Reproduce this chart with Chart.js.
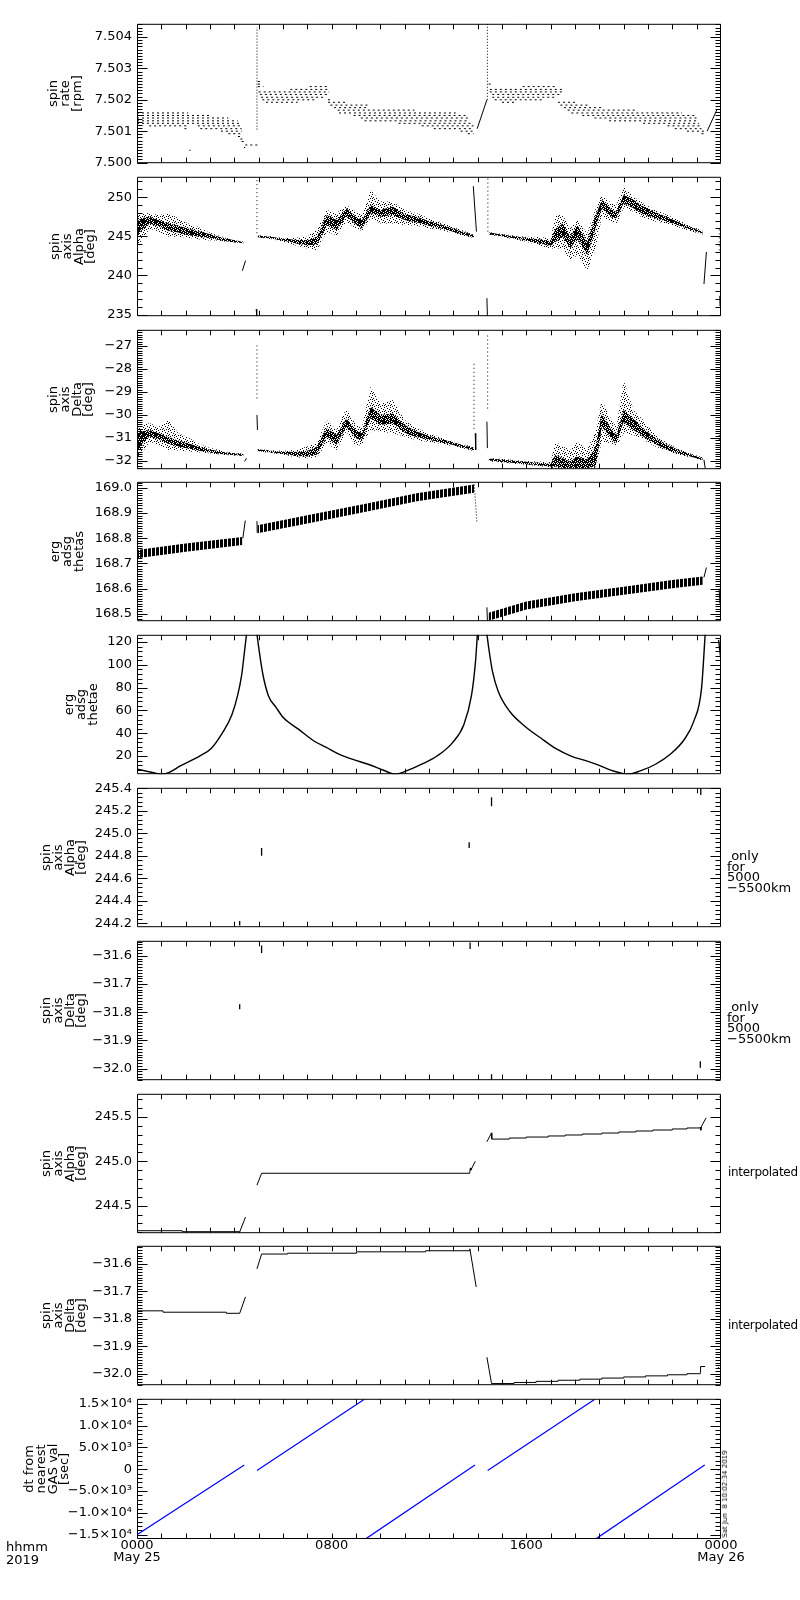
<!DOCTYPE html>
<html lang="en">
<head>
<meta charset="UTF-8" />
<title>ERG spin axis summary, 2019 May 25</title>
<script src="https://cdn.jsdelivr.net/npm/chart.js"></script>
<style>
  body { margin: 0; background: #fff; font-family: 'DejaVu Sans', sans-serif; color: #000; }
  #page { position: relative; width: 800px; height: 1600px; overflow: hidden; }
  #page canvas { position: absolute; left: 0; }
  .note { position: absolute; font-size: 13px; line-height: 10.5px; white-space: nowrap; z-index: 5; }
  .narrow { font-size: 12px; letter-spacing: -0.3px; }
  #stamp { position: absolute; font-size: 7px; white-space: pre; transform: translate(-50%, -50%) rotate(-90deg); z-index: 5; }
</style>
</head>
<body>
<div id="page">
  <div class="note" style="left:727px;top:851px">&nbsp;only<br>for<br>5000<br>&minus;5500km</div>
  <div class="note" style="left:727px;top:1002px">&nbsp;only<br>for<br>5000<br>&minus;5500km</div>
  <div class="note narrow" style="left:728px;top:1167px">interpolated</div>
  <div class="note narrow" style="left:728px;top:1320px">interpolated</div>
  <div class="note" style="left:6px;top:1541px;line-height:12.5px">hhmm<br>2019</div>
  <div id="stamp" style="left:725px;top:1494px">Sat Jun  8 10:02:34 2019</div>
</div>

<script>
// time axis: hours since 0000 UT, May 25 2019
const hourTicks = [0, 8, 16, 24];
const hourLabels = [['0000', 'May 25'], ['0800'], ['1600'], ['0000', 'May 26']];

// ---- panel 1: spin rate [rpm]
const rateTicks = [7.500, 7.501, 7.502, 7.503, 7.504];
const rateLabels = ['7.500', '7.501', '7.502', '7.503', '7.504'];
// [rpm, from h, to h]
const rateLevels = [
  [7.50158, 0.00, 2.10], [7.50150, 0.00, 2.96], [7.50142, 0.00, 3.75], [7.50133, 0.00, 4.14],
  [7.50125, 0.00, 4.30], [7.50117, 0.50, 2.05], [7.50117, 2.50, 4.30], [7.50108, 1.95, 2.15],
  [7.50108, 2.60, 4.30], [7.50100, 3.45, 4.30], [7.50092, 3.75, 4.32], [7.50083, 4.15, 4.35],
  [7.50075, 4.25, 4.40], [7.50067, 4.30, 4.40], [7.50056, 4.45, 4.95], [7.50048, 4.40, 4.45],
  [7.50039, 2.15, 2.20],
  [7.50258, 4.97, 5.12], [7.50250, 4.97, 5.05], [7.50242, 4.97, 5.20], [7.50242, 7.10, 7.85],
  [7.50233, 6.30, 7.90], [7.50225, 5.00, 7.90], [7.50217, 5.05, 7.90], [7.50208, 5.10, 7.75],
  [7.50200, 5.15, 7.30], [7.50192, 5.30, 6.60], [7.50200, 7.85, 8.00], [7.50192, 7.85, 8.55],
  [7.50183, 7.95, 9.50], [7.50175, 8.10, 9.50], [7.50167, 8.25, 11.40], [7.50158, 8.30, 13.10],
  [7.50150, 8.90, 13.50], [7.50142, 9.20, 13.60], [7.50133, 9.35, 13.67], [7.50125, 10.75, 13.75],
  [7.50117, 11.70, 13.83], [7.50108, 12.20, 13.83], [7.50100, 13.30, 13.83], [7.50092, 13.60, 13.83],
  [7.50250, 14.45, 14.60], [7.50242, 15.85, 17.20], [7.50233, 14.50, 17.50], [7.50225, 14.50, 17.50],
  [7.50217, 14.60, 17.40], [7.50208, 14.60, 17.20], [7.50200, 14.70, 16.75], [7.50192, 15.00, 15.50],
  [7.50192, 17.30, 18.00], [7.50183, 17.40, 18.60], [7.50175, 17.55, 19.10], [7.50167, 17.70, 20.50],
  [7.50158, 17.85, 22.40], [7.50150, 18.30, 22.90], [7.50142, 18.80, 23.05], [7.50133, 19.40, 23.05],
  [7.50125, 20.80, 23.10], [7.50117, 21.80, 23.15], [7.50108, 22.10, 23.20], [7.50100, 22.60, 23.35],
  [7.50092, 23.20, 23.40]
];
const rateRampT = [13.98, 14.38, null, 23.43, 23.83];
const rateRampV = [7.50108, 7.50200, null, 7.50100, 7.50168];
const rateSpikes = [[4.93, 7.50105, 7.50431], [14.40, 7.50200, 7.50447]];

// ---- panel 2: spin axis Alpha [deg]
const alphaTicks = [235, 240, 245, 250];
const alphaLabels = ['235', '240', '245', '250'];
const alphaT = [0, 0.15, 0.52, 0.9, 1.3, 1.7, 2.1, 2.5, 2.9, 3.3, 3.67, 4.05, 4.38, null,
  4.95, 5.5, 6.0, 6.5, 7.0, 7.4, 7.8, 8.2, 8.6, 9.0, 9.25, 9.6, 10.0, 10.5, 11.0, 11.5, 12.0, 12.5, 13.0, 13.5, 13.85, null,
  14.45, 15.0, 15.5, 16.0, 16.5, 17.0, 17.2, 17.5, 17.8, 18.1, 18.5, 18.85, 19.1, 19.5, 19.7, 20.0, 20.4, 20.8, 21.3, 21.8, 22.3, 22.8, 23.25];
const alphaCoreHi = [246.87, 247.3, 247.51, 247.08, 246.65, 246.35, 246.0, 245.67, 245.36, 245.02, 244.72, 244.46, 244.29, null,
  245.11, 244.94, 244.72, 244.55, 244.51, 244.94, 247.73, 247.08, 248.58, 247.51, 247.08, 249.01, 248.37, 248.8, 247.81, 247.51, 246.95, 246.52, 246.0, 245.49, 245.15, null,
  245.49, 245.24, 245.02, 244.81, 244.64, 244.38, 246.0, 246.65, 244.94, 246.44, 244.29, 247.73, 249.66, 248.37, 248.15, 250.3, 249.66, 248.8, 248.07, 247.42, 246.78, 246.09, 245.58];
const alphaCoreLo = [245.15, 245.58, 246.65, 246.22, 245.67, 245.49, 245.15, 244.98, 244.81, 244.59, 244.38, 244.21, 244.12, null,
  244.89, 244.72, 244.46, 244.12, 243.86, 243.95, 246.44, 245.79, 247.51, 246.52, 246.0, 247.94, 247.51, 247.73, 247.08, 246.78, 246.35, 246.0, 245.58, 245.15, 244.85, null,
  245.28, 245.02, 244.72, 244.46, 244.08, 243.78, 244.29, 244.94, 243.43, 244.72, 242.58, 246.0, 248.58, 247.38, 247.3, 249.23, 248.58, 247.81, 247.3, 246.87, 246.35, 245.79, 245.32];
const alphaOutHi = [247.73, 247.94, 247.94, 247.73, 247.94, 247.3, 246.65, 246.22, 245.58, 245.15, 244.8, 244.5, 244.3, null,
  245.15, 245.0, 244.8, 244.81, 244.94, 246.0, 248.37, 247.94, 249.01, 248.15, 247.73, 250.94, 249.44, 249.44, 248.37, 247.94, 247.3, 246.8, 246.2, 245.6, 245.2, null,
  245.55, 245.3, 245.1, 244.95, 244.94, 244.72, 247.73, 247.73, 246.0, 247.08, 245.36, 248.58, 250.3, 249.23, 249.0, 251.37, 250.1, 249.23, 248.37, 247.73, 247.0, 246.3, 245.7];
const alphaOutLo = [243.86, 244.29, 246.0, 245.58, 244.94, 244.94, 244.81, 244.64, 244.51, 244.46, 244.3, 244.18, 244.1, null,
  244.85, 244.65, 244.35, 243.86, 243.43, 243.22, 245.58, 245.15, 246.87, 246.0, 245.67, 247.3, 246.65, 246.65, 246.44, 246.35, 246.0, 245.8, 245.4, 245.0, 244.8, null,
  245.2, 244.95, 244.6, 244.3, 243.86, 243.43, 243.43, 243.43, 241.93, 242.58, 240.64, 243.43, 247.51, 246.87, 246.6, 248.58, 248.15, 247.3, 246.9, 246.6, 246.1, 245.6, 245.2];
const alphaLineT = [4.33, 4.46, null, 4.90, 4.92, null, 13.82, 13.95, null, 14.38, 14.40, null, 23.30, 23.40, null, 23.95, 23.96];
const alphaLineV = [240.6, 241.9, null, 235.7, 234.8, null, 251.4, 245.6, null, 237.1, 234.8, null, 238.9, 243.0, null, 237.4, 236.1];
const alphaDots = [[4.93, 245.4, 252.5], [14.42, 245.6, 252.5], [23.93, 243.2, 246.0]];

// ---- panel 3: spin axis Delta [deg]
const deltaTicks = [-32, -31, -30, -29, -28, -27];
const deltaLabels = ['\u221232', '\u221231', '\u221230', '\u221229', '\u221228', '\u221227'];
const deltaT = alphaT;
const deltaCoreHi = [-30.87, -30.72, -30.65, -30.80, -30.97, -31.11, -31.23, -31.37, -31.49, -31.56, -31.63, -31.68, -31.70, null,
  -31.49, -31.56, -31.59, -31.60, -31.56, -31.37, -30.58, -30.87, -30.15, -30.65, -30.80, -29.64, -30.00, -29.93, -30.43, -30.72, -30.91, -31.05, -31.20, -31.34, -31.44, null,
  -31.89, -31.95, -31.99, -32.04, -32.08, -32.12, -31.73, -31.88, -32.02, -31.80, -31.95, -31.37, -29.93, -30.65, -30.87, -29.78, -30.15, -30.58, -31.01, -31.30, -31.55, -31.73, -31.88];
const deltaCoreLo = [-31.66, -31.30, -30.94, -31.08, -31.26, -31.37, -31.46, -31.55, -31.62, -31.68, -31.72, -31.75, -31.78, null,
  -31.57, -31.63, -31.69, -31.78, -31.81, -31.73, -30.94, -31.30, -30.51, -31.01, -31.11, -30.15, -30.43, -30.36, -30.77, -30.97, -31.08, -31.20, -31.31, -31.44, -31.55, null,
  -31.98, -32.05, -32.09, -32.14, -32.19, -32.24, -32.24, -32.31, -32.31, -32.31, -32.31, -32.24, -30.51, -31.01, -31.23, -30.29, -30.65, -30.94, -31.26, -31.52, -31.69, -31.83, -31.95];
const deltaOutHi = [-30.51, -30.44, -30.36, -30.51, -30.22, -30.80, -30.97, -31.23, -31.40, -31.50, -31.60, -31.66, -31.69, null,
  -31.47, -31.54, -31.56, -31.52, -31.37, -31.16, -30.22, -30.65, -29.71, -30.43, -30.51, -28.77, -29.50, -29.35, -30.22, -30.58, -30.80, -30.97, -31.15, -31.30, -31.40, null,
  -31.86, -31.92, -31.96, -32.00, -32.03, -32.05, -31.16, -31.37, -31.52, -31.16, -31.52, -30.65, -29.35, -30.22, -30.51, -28.49, -29.78, -30.22, -30.87, -31.23, -31.50, -31.70, -31.85];
const deltaOutLo = [-31.81, -31.74, -31.16, -31.30, -31.52, -31.55, -31.59, -31.62, -31.66, -31.71, -31.74, -31.77, -31.79, null,
  -31.59, -31.65, -31.72, -31.84, -31.88, -31.84, -31.23, -31.52, -30.72, -31.37, -31.30, -30.65, -30.72, -30.80, -30.94, -31.11, -31.16, -31.26, -31.36, -31.48, -31.58, null,
  -32.01, -32.08, -32.12, -32.17, -32.22, -32.27, -32.34, -32.34, -32.34, -32.34, -32.34, -32.34, -31.16, -31.23, -31.37, -30.80, -30.87, -31.08, -31.37, -31.59, -31.74, -31.86, -31.98];
const deltaLineT = [4.42, 4.50, null, 4.93, 4.95, null, 13.90, 13.92, null, 14.38, 14.40, null, 23.30, 23.35];
const deltaLineV = [-32.02, -31.88, null, -30.0, -30.65, null, -30.80, -31.52, null, -30.29, -31.44, null, -31.95, -32.31];
const deltaDots = [[4.93, -26.97, -29.35], [13.85, -27.77, -30.66], [14.41, -26.54, -29.78], [23.93, -30.87, -31.52]];

// ---- panel 4: erg adsg thetas
const thetasTicks = [168.5, 168.6, 168.7, 168.8, 168.9, 169.0];
const thetasLabels = ['168.5', '168.6', '168.7', '168.8', '168.9', '169.0'];
const thetasT = [0, 2, 4.33, null, 4.95, 7, 9.4, 11.5, 13.85, null, 14.45, 16, 18, 20, 22, 23.25];
const thetasHi = [168.753, 168.779, 168.805, null, 168.852, 168.891, 168.937, 168.979, 169.013, null, 168.505, 168.549, 168.582, 168.608, 168.634, 168.648];
const thetasLo = [168.721, 168.747, 168.773, null, 168.820, 168.859, 168.905, 168.947, 168.981, null, 168.473, 168.517, 168.550, 168.576, 168.602, 168.616];
const thetasLineT = [4.35, 4.45, null, 4.93, 4.94, null, 14.38, 14.40, null, 23.30, 23.40, null, 23.92, 23.96];
const thetasLineV = [168.80, 168.87, null, 168.868, 168.822, null, 168.526, 168.474, null, 168.645, 168.684, null, 168.60, 168.54];
const thetasDotT = [13.86, 13.97];
const thetasDotV = [169.013, 168.862];

// ---- panel 5: erg adsg thetae
const thetaeTicks = [20, 40, 60, 80, 100, 120];
const thetaeLabels = ['20', '40', '60', '80', '100', '120'];
const thetaeT = [0, 0.36, 0.8, 0.99, 1.3, 1.78, 2.57, 3.05, 3.51, 3.9, 4.14, 4.3, 4.43, 4.5, null,
  4.93, 5.01, 5.17, 5.4, 5.72, 6.03, 6.66, 7.29, 7.76, 8.32, 8.87, 9.5, 10.13, 10.6, 11.07, 11.7, 12.33, 12.96, 13.43, 13.75, 13.91, 13.99, null,
  14.38, 14.46, 14.61, 14.85, 15.32, 15.95, 16.58, 17.2, 17.84, 18.47, 18.94, 19.57, 20.2, 20.68, 21.31, 21.94, 22.49, 22.88, 23.2, 23.35, null,
  23.9, 24];
const thetaeV = [8.5, 6.9, 4.8, 4.1, 5.5, 11.3, 20, 26.7, 40.3, 56.2, 73.6, 91, 114, 127, null,
  127, 114, 92, 73, 62.5, 53.3, 43.2, 33, 27.8, 21.4, 17, 12.8, 7.5, 4.1, 6.9, 12.8, 20, 31.6, 47.5, 73.6, 102.6, 127, null,
  127, 114, 94, 76.5, 59.1, 46, 36, 26.7, 20, 15.7, 12.2, 6.9, 4.1, 6.9, 12.8, 22, 34.5, 50.4, 79.4, 127, null,
  122, 104];

// ---- panel 6 / 7: only for 5000-5500 km   [h, from, to]
const alphaNearTicks = [244.2, 244.4, 244.6, 244.8, 245.0, 245.2, 245.4];
const alphaNearLabels = ['244.2', '244.4', '244.6', '244.8', '245.0', '245.2', '245.4'];
const alphaNear = [[4.22, 244.18, 244.22], [5.12, 244.80, 244.87], [13.65, 244.87, 244.92], [14.57, 245.24, 245.32], [23.17, 245.34, 245.40]];
const deltaNearTicks = [-32.0, -31.9, -31.8, -31.7, -31.6];
const deltaNearLabels = ['\u221232.0', '\u221231.9', '\u221231.8', '\u221231.7', '\u221231.6'];
const deltaNear = [[4.22, -31.79, -31.772], [5.12, -31.59, -31.564], [13.69, -31.576, -31.553], [14.57, -32.04, -32.02], [23.15, -31.997, -31.974]];

// ---- panel 8: interpolated Alpha
const alphaIntTicks = [244.5, 245.0, 245.5];
const alphaIntLabels = ['244.5', '245.0', '245.5'];
const alphaStepT = [0, 1.86, 4.22, null, 5.12, 13.67, null,
  14.58, 15.3, 16.0, 16.9, 17.6, 18.3, 19.1, 19.8, 20.5, 21.2, 22.0, 22.6, 23.15];
const alphaStepV = [244.218, 244.207, 244.207, null, 244.865, 244.865, null,
  245.25, 245.262, 245.273, 245.285, 245.296, 245.307, 245.318, 245.33, 245.341, 245.352, 245.364, 245.375, 245.385];
const alphaRampT = [4.20, 4.46, null, 4.93, 5.12, null, 13.67, 13.70, 13.72, 13.90, null, 14.38, 14.57, 14.58, null,
  23.15, 23.17, 23.20, 23.39, null, 23.95, 24.0];
const alphaRampV = [244.19, 244.372, null, 244.73, 244.865, null, 244.865, 244.925, 244.90, 245.0, null, 245.22, 245.32, 245.25, null,
  245.385, 245.35, 245.395, 245.49, null, 245.72, 245.75];

// ---- panel 9: interpolated Delta
const deltaIntTicks = [-32.0, -31.9, -31.8, -31.7, -31.6];
const deltaIntLabels = deltaNearLabels;
const deltaStepT = [0, 1.07, 3.67, 4.22, null, 5.12, 6.19, 9.02, 11.86, 13.67, null,
  14.57, 15.5, 16.4, 17.3, 18.2, 19.1, 20.0, 20.9, 21.8, 22.6, 23.15];
const deltaStepV = [-31.771, -31.776, -31.780, -31.780, null, -31.564, -31.561, -31.556, -31.552, -31.552, null,
  -32.036, -32.032, -32.028, -32.024, -32.020, -32.016, -32.012, -32.008, -32.004, -32.0, -31.996];
const deltaRampT = [4.22, 4.46, null, 4.93, 5.12, null, 13.67, 13.68, 13.94, null, 14.38, 14.57, null,
  23.15, 23.16, 23.35, null, 23.88, 23.92];
const deltaRampV = [-31.780, -31.72, null, -31.618, -31.564, null, -31.552, -31.545, -31.684, null, -31.94, -32.036, null,
  -31.996, -31.974, -31.974, null, -31.978, -31.978];

// ---- panel 10: dt from nearest GAS val [sec]
const dtTicks = [-15000, -10000, -5000, 0, 5000, 10000, 15000];
const dtLabels = ['\u22121.5\u00d710\u2074', '\u22121.0\u00d710\u2074', '\u22125.0\u00d710\u00b3', '0',
  '5.0\u00d710\u00b3', '1.0\u00d710\u2074', '1.5\u00d710\u2074'];
const dtT = [0, 4.41, null, 4.93, 9.33, null, 9.40, 13.89, null, 14.41, 18.80, null, 18.86, 23.33, null, 23.88, 23.92];
const dtV = [-15000, 985, null, -300, 16000, null, -15950, 985, null, -300, 16000, null, -15950, 985, null, -200, -100];

Chart.defaults.font.family = "'DejaVu Sans', sans-serif";
Chart.defaults.font.size = 13;
Chart.defaults.color = '#000';

// fill patterns that stand in for the dense point clouds
function pixelPattern(w, h, on) {
  const c = document.createElement('canvas');
  c.width = w; c.height = h;
  const g = c.getContext('2d');
  g.fillStyle = '#000';
  on.forEach(([a, b]) => g.fillRect(a, b, 1, 1));
  return g.createPattern(c, 'repeat');
}
const sparseDots = pixelPattern(6, 6, [[0, 0], [3, 1], [1, 3], [4, 4], [5, 2], [2, 5], [0, 4]]);
const denseDots = pixelPattern(4, 4, [[0, 0], [1, 0], [2, 0], [0, 1], [2, 1], [3, 1], [1, 2], [3, 2], [0, 3], [2, 3], [3, 3]]);
const hatch = pixelPattern(4, 1, [[0, 0], [1, 0], [2, 0]]);

function toPoints(ts, vs) {
  return ts.map((t, i) => t === null ? { x: ts[i - 1], y: null } : { x: t, y: vs[i] });
}
function pieces(list) {
  const ts = [], vs = [];
  list.forEach(([h, a, b]) => { ts.push(h, h, null); vs.push(a, b, null); });
  return [ts, vs];
}
function levels(list) {
  const ts = [], vs = [];
  list.forEach(([v, a, b]) => { ts.push(a, b, null); vs.push(v, v, null); });
  return [ts, vs];
}
function lineSet(ts, vs, extra) {
  return Object.assign({
    data: toPoints(ts, vs), borderColor: '#000', borderWidth: 1, pointRadius: 0,
    fill: false, spanGaps: false, tension: 0, order: 0
  }, extra || {});
}
function bandSets(ts, hi, lo, color, order) {
  const out = [];
  let s = 0;
  for (let i = 0; i <= ts.length; i++) {
    if (i === ts.length || ts[i] === null) {
      if (i > s) {
        const seg = ts.slice(s, i);
        out.push({ data: seg.map((t, k) => ({ x: t, y: hi[s + k] })), fill: '+1', backgroundColor: color,
          borderWidth: 0, borderColor: 'rgba(0,0,0,0)', pointRadius: 0, order });
        out.push({ data: seg.map((t, k) => ({ x: t, y: lo[s + k] })), fill: false,
          borderWidth: 0, borderColor: 'rgba(0,0,0,0)', pointRadius: 0, order });
      }
      s = i + 1;
    }
  }
  return out;
}

// IDL style box: frame plus inward ticks on all four sides
const idlFrame = {
  id: 'idlFrame',
  afterDatasetsDraw(chart, args, o) {
    const { ctx, chartArea: a, scales: { x, y } } = chart;
    const L = a.left + 0.5, R = a.right - 0.5, T = a.top + 0.5, B = a.bottom - 0.5;
    ctx.save();
    ctx.strokeStyle = '#000';
    ctx.lineWidth = 1;
    ctx.beginPath();
    ctx.rect(L, T, R - L, B - T);
    const tick = (v, len) => {
      const p = Math.round(y.getPixelForValue(v)) + 0.5;
      ctx.moveTo(L, p); ctx.lineTo(L + len, p);
      ctx.moveTo(R, p); ctx.lineTo(R - len, p);
    };
    for (let n = Math.ceil(y.min / o.minor - 1e-6); n * o.minor <= y.max + 1e-9; n++) tick(n * o.minor, 5);
    o.major.forEach(v => tick(v, 10));
    for (let h = 1; h < 24; h++) {
      const p = Math.round(x.getPixelForValue(h)) + 0.5;
      ctx.moveTo(p, B); ctx.lineTo(p, B - 5);
      ctx.moveTo(p, T); ctx.lineTo(p, T + 5);
    }
    ctx.stroke();
    ctx.restore();
  }
};

const panels = [
  { top: 23, min: 7.49998, max: 7.50442, ticks: rateTicks, labels: rateLabels, minor: 0.0001,
    title: ['spin', 'rate', '[rpm]'], titleX: 54,
    datasets: [
      lineSet(...levels(rateLevels), { borderDash: [2, 3] }),
      lineSet(rateRampT, rateRampV),
      lineSet(...pieces(rateSpikes), { borderDash: [1, 2] })
    ] },
  { top: 176, min: 234.8, max: 252.6, ticks: alphaTicks, labels: alphaLabels, minor: 1,
    title: ['spin', 'axis', 'Alpha', '[deg]'], titleX: 56,
    datasets: [
      lineSet(alphaLineT, alphaLineV),
      lineSet(...pieces(alphaDots), { borderDash: [1, 3] }),
      ...bandSets(alphaT, alphaCoreHi, alphaCoreLo, denseDots, 1),
      ...bandSets(alphaT, alphaOutHi, alphaOutLo, sparseDots, 2)
    ] },
  { top: 329, min: -32.36, max: -26.29, ticks: deltaTicks, labels: deltaLabels, minor: 0.1,
    title: ['spin', 'axis', 'Delta', '[deg]'], titleX: 54,
    datasets: [
      lineSet(deltaLineT, deltaLineV),
      lineSet(...pieces(deltaDots), { borderDash: [1, 3] }),
      ...bandSets(deltaT, deltaCoreHi, deltaCoreLo, denseDots, 1),
      ...bandSets(deltaT, deltaOutHi, deltaOutLo, sparseDots, 2)
    ] },
  { top: 481, min: 168.471, max: 169.024, ticks: thetasTicks, labels: thetasLabels, minor: 0.01,
    title: ['erg', 'adsg', 'thetas'], titleX: 56,
    datasets: [
      lineSet(thetasLineT, thetasLineV),
      lineSet(thetasDotT, thetasDotV, { borderDash: [1, 2] }),
      ...bandSets(thetasT, thetasHi, thetasLo, hatch, 1)
    ] },
  { top: 634, min: 4.06, max: 126.4, ticks: thetaeTicks, labels: thetaeLabels, minor: 4,
    title: ['erg', 'adsg', 'thetae'], titleX: 70,
    datasets: [lineSet(thetaeT, thetaeV, { borderWidth: 1.4, cubicInterpolationMode: 'monotone' })] },
  { top: 787, min: 244.165, max: 245.405, ticks: alphaNearTicks, labels: alphaNearLabels, minor: 0.04,
    title: ['spin', 'axis', 'Alpha', '[deg]'], titleX: 47,
    datasets: [lineSet(...pieces(alphaNear), { borderWidth: 1.3 })] },
  { top: 940, min: -32.041, max: -31.547, ticks: deltaNearTicks, labels: deltaNearLabels, minor: 0.01,
    title: ['spin', 'axis', 'Delta', '[deg]'], titleX: 47,
    datasets: [lineSet(...pieces(deltaNear), { borderWidth: 1.3 })] },
  { top: 1093, min: 244.19, max: 245.76, ticks: alphaIntTicks, labels: alphaIntLabels, minor: 0.1,
    title: ['spin', 'axis', 'Alpha', '[deg]'], titleX: 47,
    datasets: [
      lineSet(alphaStepT, alphaStepV, { stepped: true }),
      lineSet(alphaRampT, alphaRampV)
    ] },
  { top: 1245, min: -32.042, max: -31.534, ticks: deltaIntTicks, labels: deltaIntLabels, minor: 0.01,
    title: ['spin', 'axis', 'Delta', '[deg]'], titleX: 47,
    datasets: [
      lineSet(deltaStepT, deltaStepV, { stepped: true }),
      lineSet(deltaRampT, deltaRampV)
    ] },
  { top: 1398, min: -15980, max: 16140, ticks: dtTicks, labels: dtLabels, minor: 1000,
    title: ['dt from', 'nearest', 'GAS val', '[sec]'], titleX: 30,
    datasets: [lineSet(dtT, dtV, { borderColor: '#0000ff', borderWidth: 1.2 })] }
];

const page = document.getElementById('page');
panels.forEach((p, k) => {
  const last = k === panels.length - 1;
  const cv = document.createElement('canvas');
  cv.width = 800;
  cv.height = 12 + 141 + (last ? 40 : 12);
  cv.style.top = (p.top - 12) + 'px';
  page.appendChild(cv);

  const xScale = last ? {
    type: 'linear', min: 0, max: 24, display: true,
    afterBuildTicks: s => { s.ticks = hourTicks.map(v => ({ value: v })); },
    afterFit: s => { s.height = 40; },
    ticks: { callback: (v, i) => hourLabels[i], maxRotation: 0, autoSkip: false, padding: 0,
      font: { size: 13, lineHeight: 0.95 } },
    grid: { display: false, drawTicks: false },
    border: { display: false }
  } : { type: 'linear', min: 0, max: 24, display: false };

  new Chart(cv, {
    type: 'line',
    data: { datasets: p.datasets },
    options: {
      responsive: false,
      animation: false,
      events: [],
      layout: { padding: { top: 12, bottom: last ? 0 : 12, left: 0, right: 79 } },
      plugins: {
        legend: { display: false },
        tooltip: { enabled: false },
        idlFrame: { major: p.ticks, minor: p.minor }
      },
      scales: {
        x: xScale,
        y: {
          type: 'linear', min: p.min, max: p.max,
          afterBuildTicks: s => { s.ticks = p.ticks.map(v => ({ value: v })); },
          afterFit: s => { s.width = 137; },
          ticks: { callback: (v, i) => p.labels[i], padding: 5, autoSkip: false, font: { size: 13 } },
          grid: { display: false, drawTicks: false },
          border: { display: false },
          title: { display: true, text: p.title, font: { size: 13, lineHeight: 0.9 },
            padding: { top: p.titleX - 5.85, bottom: 0 } }
        }
      }
    },
    plugins: [idlFrame]
  });
});
</script>
</body>
</html>
